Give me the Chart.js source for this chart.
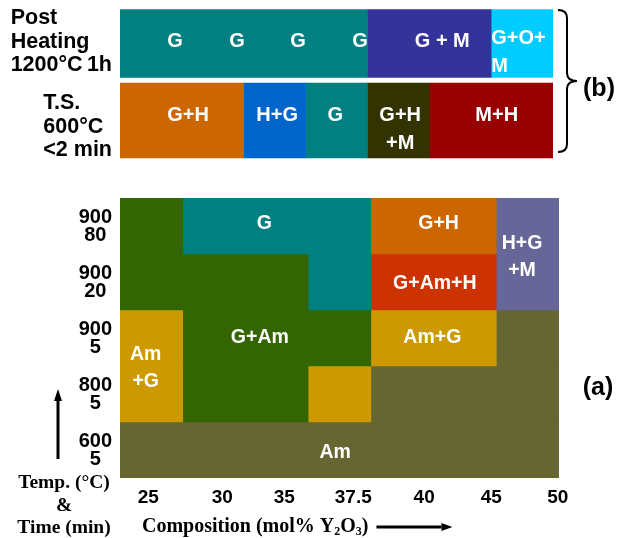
<!DOCTYPE html>
<html>
<head>
<meta charset="utf-8">
<script src="https://cdn.jsdelivr.net/npm/chart.js@4/dist/chart.umd.min.js"></script>
<style>
  html, body { margin: 0; padding: 0; background: #fff; }
  #wrap { position: relative; width: 627px; height: 538px; overflow: hidden; }
  canvas { position: absolute; left: 0; }
  #chartB { top: 0; }
  #chartA { top: 170px; }
</style>
</head>
<body>
<div id="wrap">
  <canvas id="chartB" width="627" height="170"></canvas>
  <canvas id="chartA" width="627" height="368"></canvas>
</div>
<script>
// ---- (a) heat treatment map: composition columns x temperature/time rows ----
const compositionTicks = ['25', '30', '35', '37.5', '40', '45', '50'];
const compositionTickAt = [0.45, 1.63, 2.62, 3.72, 4.85, 5.92, 6.98]; // in column units
const heatRows = [['900', '80'], ['900', '20'], ['900', '5'], ['800', '5'], ['600', '5']];
const heatPhases = [
  ['G+Am', 'G', 'G', 'G', 'G+H', 'G+H', 'H+G+M'],
  ['G+Am', 'G+Am', 'G+Am', 'G', 'G+Am+H', 'G+Am+H', 'H+G+M'],
  ['Am+G', 'G+Am', 'G+Am', 'G+Am', 'Am+G', 'Am+G', 'Am'],
  ['Am+G', 'G+Am', 'G+Am', 'Am+G', 'Am', 'Am', 'Am'],
  ['Am', 'Am', 'Am', 'Am', 'Am', 'Am', 'Am']
];
const heatCellLabels = [
  { text: ['G'], col: 2.30, row: -0.05 },
  { text: ['G+H'], col: 5.08, row: -0.05 },
  { text: ['G+Am+H'], col: 5.02, row: 1.03 },
  { text: ['H+G', '+M'], col: 6.41, row: 0.55 },
  { text: ['G+Am'], col: 2.23, row: 2.0 },
  { text: ['Am+G'], col: 4.98, row: 2.0 },
  { text: ['Am', '+G'], col: 0.41, row: 2.54 },
  { text: ['Am'], col: 3.43, row: 4.04 }
];

// ---- (b) post heating and thermal spray rows ----
const quenchRowLabels = [['Post', 'Heating', '1200°C\u20091h'], ['T.S.', '600°C', '<2 min']];
const quenchRowLabelAt = [-0.02, 1.08];
const postHeatPhases = ['G', 'G', 'G', 'G', 'G+M', 'G+M', 'G+O+M'];
const sprayPhases = ['G+H', 'G+H', 'H+G', 'G', 'G+H+M', 'M+H', 'M+H'];
const quenchCellLabels = [
  { text: ['G'], col: 0.89, row: -0.03 },
  { text: ['G'], col: 1.89, row: -0.03 },
  { text: ['G'], col: 2.88, row: -0.03 },
  { text: ['G'], col: 3.88, row: -0.03 },
  { text: ['G + M'], col: 5.21, row: -0.03 },
  { text: ['G+O+', 'M'], col: 6.0, row: 0.12, align: 'left' },
  { text: ['G+H'], col: 1.10, row: 0.93 },
  { text: ['H+G'], col: 2.54, row: 0.93 },
  { text: ['G'], col: 3.48, row: 0.93 },
  { text: ['G+H', '+M'], col: 4.53, row: 1.12 },
  { text: ['M+H'], col: 6.09, row: 0.93 }
];

const phaseColors = {
  'G': '#008080', 'G+Am': '#336600', 'G+H': '#CC6600', 'G+Am+H': '#CC3300',
  'H+G+M': '#666699', 'Am+G': '#CC9900', 'Am': '#666633',
  'G+M': '#333399', 'G+O+M': '#00CCFF', 'H+G': '#0066CC',
  'G+H+M': '#333300', 'M+H': '#990000'
};

const SANS = '"Liberation Sans", Arial, Helvetica, sans-serif';
const SERIF = '"Liberation Serif", "Times New Roman", serif';

// merge neighbouring columns of the same phase into one floating bar
function runs(row) {
  const out = [];
  let s = 0;
  for (let c = 1; c <= row.length; c++) {
    if (c === row.length || row[c] !== row[s]) {
      out.push({ phase: row[s], from: s, to: c });
      s = c;
    }
  }
  return out;
}

function buildDatasets(rows, nRows, extra) {
  const ds = [];
  rows.forEach((row, r) => runs(row).forEach(seg => {
    const data = new Array(nRows).fill(null);
    data[r] = [seg.from, seg.to];
    ds.push(Object.assign({
      data,
      backgroundColor: phaseColors[seg.phase],
      borderWidth: 0,
      grouped: false,
      barPercentage: 1,
      categoryPercentage: 1
    }, extra ? extra(r) : {}));
  }));
  return ds;
}

function drawCellLabels(chart, labels, size, gap) {
  const ctx = chart.ctx;
  const xs = chart.scales.x, ys = chart.scales.y;
  ctx.save();
  ctx.fillStyle = '#fff';
  ctx.font = 'bold ' + size + 'px ' + SANS;
  ctx.textBaseline = 'middle';
  labels.forEach(l => {
    const x = xs.getPixelForValue(l.col);
    const cy = ys.getPixelForValue(l.row);
    ctx.textAlign = l.align || 'center';
    l.text.forEach((t, i) => {
      ctx.fillText(t, x, cy + (i - (l.text.length - 1) / 2) * gap);
    });
  });
  ctx.restore();
}

function arrow(ctx, x1, y1, x2, y2, w, headLen, headW) {
  const ang = Math.atan2(y2 - y1, x2 - x1);
  const bx = x2 - headLen * Math.cos(ang), by = y2 - headLen * Math.sin(ang);
  ctx.save();
  ctx.strokeStyle = '#000';
  ctx.fillStyle = '#000';
  ctx.lineWidth = w;
  ctx.beginPath();
  ctx.moveTo(x1, y1);
  ctx.lineTo(bx, by);
  ctx.stroke();
  ctx.beginPath();
  ctx.moveTo(x2, y2);
  ctx.lineTo(bx + headW / 2 * Math.sin(ang), by - headW / 2 * Math.cos(ang));
  ctx.lineTo(bx - headW / 2 * Math.sin(ang), by + headW / 2 * Math.cos(ang));
  ctx.closePath();
  ctx.fill();
  ctx.restore();
}

// ---------------- chart (a) ----------------
const heatDecor = {
  id: 'heatDecor',
  afterDatasetsDraw(chart) {
    drawCellLabels(chart, heatCellLabels, 19.5, 27);
  },
  afterDraw(chart) {
    const ctx = chart.ctx, ca = chart.chartArea;
    ctx.save();
    ctx.fillStyle = '#000';
    // axis caption on the left
    ctx.font = 'bold 19.5px ' + SERIF;
    ctx.textAlign = 'center';
    ctx.textBaseline = 'middle';
    const cx = ca.left - 56;
    ctx.fillText('Temp. (°C)', cx, ca.bottom + 5);
    ctx.fillText('&', cx, ca.bottom + 28);
    ctx.fillText('Time (min)', cx, ca.bottom + 50);
    // composition caption with subscripts
    let x = ca.left + 22;
    const y = ca.bottom + 49;
    ctx.textAlign = 'left';
    const parts = [['Composition (mol% Y', 0], ['2', 1], ['O', 0], ['3', 1], [')', 0]];
    parts.forEach(([t, sub]) => {
      ctx.font = 'bold ' + (sub ? 12 : 20) + 'px ' + SERIF;
      ctx.fillText(t, x, y + (sub ? 5 : 0));
      x += ctx.measureText(t).width;
    });
    ctx.restore();
    arrow(ctx, x + 8, y, x + 84, y, 3, 11, 8);
    arrow(ctx, ca.left - 62, ca.bottom - 19, ca.left - 62, ca.top + 191, 3, 12, 8);
    ctx.save();
    ctx.fillStyle = '#000';
    ctx.font = 'bold 25px ' + SANS;
    ctx.textAlign = 'center';
    ctx.textBaseline = 'middle';
    ctx.fillText('(a)', ca.right + 39, ca.top + 190);
    ctx.restore();
  }
};

new Chart(document.getElementById('chartA'), {
  type: 'bar',
  data: { labels: heatRows, datasets: buildDatasets(heatPhases, heatRows.length) },
  options: {
    indexAxis: 'y',
    responsive: false,
    animation: false,
    events: [],
    devicePixelRatio: 1,
    layout: { padding: { top: 28, right: 68, left: 0, bottom: 0 } },
    plugins: { legend: { display: false }, tooltip: { enabled: false } },
    scales: {
      x: {
        type: 'linear', min: 0, max: 7,
        grid: { display: false, drawTicks: false },
        border: { display: false },
        afterBuildTicks: s => { s.ticks = compositionTickAt.map(v => ({ value: v })); },
        afterFit: s => { s.height = 60; },
        ticks: {
          autoSkip: false, maxRotation: 0, padding: 8, color: '#000',
          font: { family: SANS, size: 19, weight: 'bold' },
          callback: (v, i) => compositionTicks[i]
        }
      },
      y: {
        grid: { display: false, drawTicks: false },
        border: { display: false },
        afterFit: s => { s.width = 120; },
        ticks: {
          crossAlign: 'center', padding: 8, color: '#000',
          font: { family: SANS, size: 20, weight: 'bold', lineHeight: 0.9 }
        }
      }
    }
  },
  plugins: [heatDecor]
});

// ---------------- chart (b) ----------------
const quenchDecor = {
  id: 'quenchDecor',
  afterDatasetsDraw(chart) {
    drawCellLabels(chart, quenchCellLabels, 20, 28);
  },
  afterDraw(chart) {
    const ctx = chart.ctx, ca = chart.chartArea, ys = chart.scales.y;
    ctx.save();
    ctx.fillStyle = '#000';
    ctx.font = 'bold 21.5px ' + SANS;
    ctx.textAlign = 'left';
    ctx.textBaseline = 'middle';
    quenchRowLabels.forEach((lines, r) => {
      const w = Math.max(...lines.map(t => ctx.measureText(t).width));
      const x0 = ca.left - 8 - w;
      const cy = ys.getPixelForValue(quenchRowLabelAt[r]);
      lines.forEach((t, i) => ctx.fillText(t, x0, cy + (i - (lines.length - 1) / 2) * 23.5));
    });
    // brace grouping both rows
    const x0 = ca.right + 5, xm = x0 + 9, xt = x0 + 19;
    const yTop = 10, yBot = 152, yMid = 81, r = 8;
    ctx.strokeStyle = '#000';
    ctx.lineWidth = 2;
    ctx.beginPath();
    ctx.moveTo(x0, yTop);
    ctx.quadraticCurveTo(xm, yTop, xm, yTop + r);
    ctx.lineTo(xm, yMid - r);
    ctx.quadraticCurveTo(xm, yMid, xt, yMid);
    ctx.quadraticCurveTo(xm, yMid, xm, yMid + r);
    ctx.lineTo(xm, yBot - r);
    ctx.quadraticCurveTo(xm, yBot, x0, yBot);
    ctx.stroke();
    ctx.font = 'bold 25px ' + SANS;
    ctx.textAlign = 'center';
    ctx.fillText('(b)', ca.right + 46, yMid + 8);
    ctx.restore();
  }
};

const quenchThickness = [68, 75];
new Chart(document.getElementById('chartB'), {
  type: 'bar',
  data: {
    labels: quenchRowLabels,
    datasets: buildDatasets([postHeatPhases, sprayPhases], 2, r => ({ barThickness: quenchThickness[r] }))
  },
  options: {
    indexAxis: 'y',
    responsive: false,
    animation: false,
    events: [],
    devicePixelRatio: 1,
    layout: { padding: { top: 5, right: 74, left: 120, bottom: 11 } },
    plugins: { legend: { display: false }, tooltip: { enabled: false } },
    scales: {
      x: { type: 'linear', min: 0, max: 7, display: false },
      y: { display: false }
    }
  },
  plugins: [quenchDecor]
});
</script>
</body>
</html>
